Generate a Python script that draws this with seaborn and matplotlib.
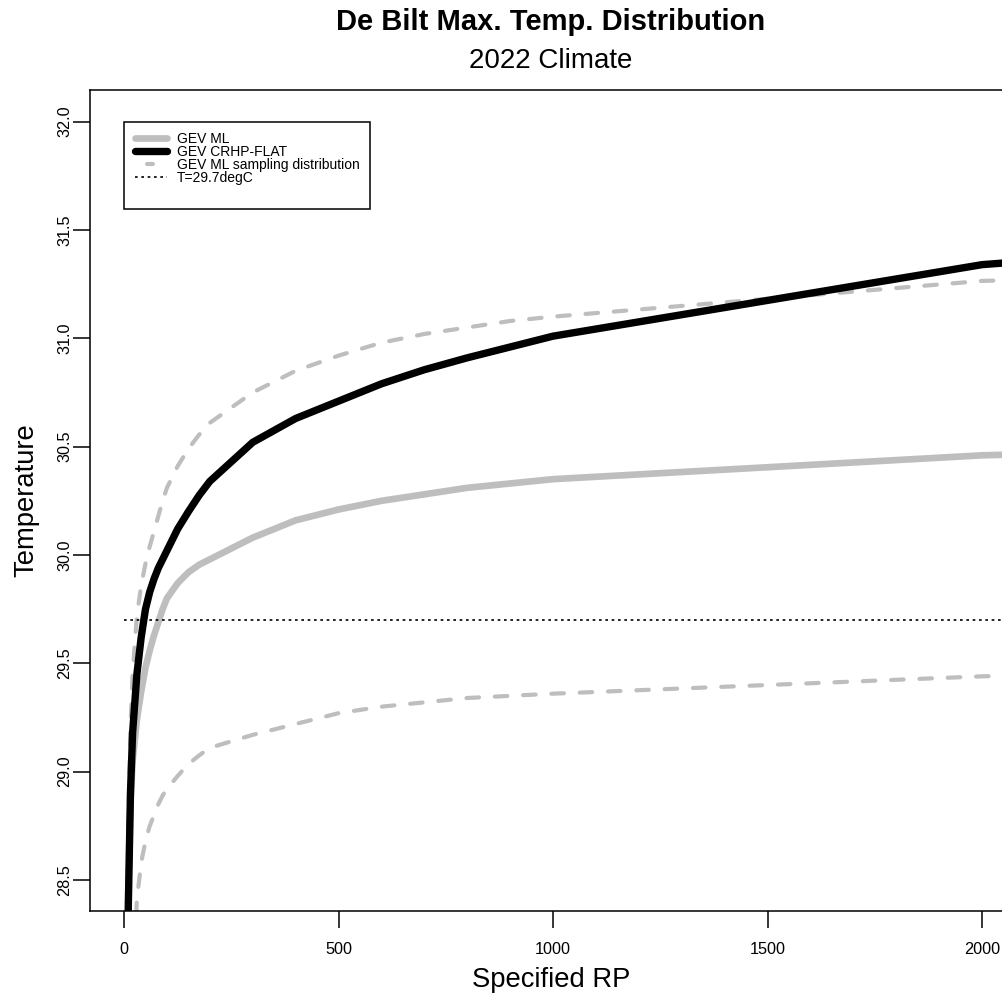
import matplotlib
matplotlib.use("Agg")
import matplotlib.pyplot as plt
import seaborn as sns
from matplotlib.lines import Line2D

# ---- data ----
return_period = [2, 5, 10, 15, 20, 30, 40, 50, 60, 70, 80, 90, 100, 125, 150, 175,
                 200, 300, 400, 500, 600, 700, 800, 900, 1000, 2000, 2100]
gev_ml = [26.0, 27.6, 28.45, 28.85, 29.05, 29.24, 29.37, 29.48, 29.56, 29.63, 29.69, 29.75, 29.80,
          29.87, 29.92, 29.955,
          29.98, 30.08, 30.16, 30.21, 30.25, 30.28, 30.31, 30.33, 30.35, 30.46, 30.465]
gev_crhp_flat = [25.5, 27.4, 28.38, 28.90, 29.18, 29.45, 29.62, 29.75, 29.83, 29.89, 29.94, 29.98, 30.02,
                 30.12, 30.20, 30.275,
                 30.34, 30.52, 30.63, 30.71, 30.79, 30.855, 30.91, 30.96, 31.01, 31.34, 31.355]
ml_sampling_upper = [26.5, 27.9, 28.75, 29.2, 29.45, 29.72, 29.86, 29.96, 30.04, 30.11, 30.18, 30.25, 30.31,
                     30.41, 30.49, 30.555,
                     30.61, 30.75, 30.85, 30.92, 30.98, 31.02, 31.05, 31.08, 31.10, 31.265, 31.27]
ml_sampling_lower = [24.0, 26.0, 27.2, 27.7, 28.0, 28.41, 28.58, 28.68, 28.75, 28.80, 28.85, 28.89, 28.92,
                     28.98, 29.035, 29.075,
                     29.11, 29.17, 29.22, 29.27, 29.30, 29.32, 29.34, 29.35, 29.36, 29.44, 29.445]
threshold_rp = [0, 2100]
threshold_temp = [29.7, 29.7]

x_ticks = [0, 500, 1000, 1500, 2000]
y_ticks = [28.5, 29.0, 29.5, 30.0, 30.5, 31.0, 31.5, 32.0]
y_tick_labels = ["28.5", "29.0", "29.5", "30.0", "30.5", "31.0", "31.5", "32.0"]

legend_labels = ["GEV ML", "GEV CRHP-FLAT", "GEV ML sampling distribution", "T=29.7degC"]

title = "De Bilt Max. Temp. Distribution"
subtitle = "2022 Climate"
x_label = "Specified RP"
y_label = "Temperature"

GREY = "#bebebe"

sns.set_style("ticks")
plt.rcParams['font.family'] = ['Liberation Sans', 'DejaVu Sans']
plt.rcParams['text.color'] = 'black'

W, H = 1003, 999
fig = plt.figure(figsize=(W / 100, H / 100), dpi=100)
ax = fig.add_axes([90 / W, 88 / H, 926 / W, 821 / H])

sns.lineplot(x=return_period, y=gev_ml, ax=ax, color=GREY, lw=4.8,
             solid_joinstyle='round', solid_capstyle='round')
for series in (ml_sampling_upper, ml_sampling_lower):
    sns.lineplot(x=return_period, y=series, ax=ax, color=GREY, lw=3.0)
    ln = ax.lines[-1]
    ln.set_linestyle((0, (3.0, 3.8)))
    ln.set_dash_capstyle('round')
sns.lineplot(x=return_period, y=gev_crhp_flat, ax=ax, color="black", lw=5.3,
             solid_joinstyle='round', solid_capstyle='round')
sns.lineplot(x=threshold_rp, y=threshold_temp, ax=ax, color="black", lw=1.2)
ax.lines[-1].set_linestyle((0, (1.6, 2.2)))

ax.set_xlim(-79.3, 2079)
ax.set_ylim(28.357, 32.146)
ax.set_xticks(x_ticks)
ax.set_xticklabels([str(t) for t in x_ticks])
ax.set_yticks(y_ticks)
ax.set_yticklabels(y_tick_labels, rotation=90, va='center')
ax.tick_params(axis='both', direction='out', length=12, width=1.1, color='black',
               labelsize=11.7, labelcolor='black')
ax.tick_params(axis='x', pad=10.5)
ax.tick_params(axis='y', pad=1)
for side in ('left', 'bottom', 'top', 'right'):
    ax.spines[side].set_visible(True)
    ax.spines[side].set_color('black')
    ax.spines[side].set_linewidth(1.1)
ax.set_xlabel("")
ax.set_ylabel("")

handles = [
    Line2D([], [], color=GREY, lw=4.8, solid_capstyle='round'),
    Line2D([], [], color="black", lw=5.3, solid_capstyle='round'),
    Line2D([], [], color=GREY, lw=3.0, linestyle=(8.1, (1.4, 9.6)), dash_capstyle='round'),
    Line2D([], [], color="black", lw=1.2, linestyle=(0, (1.6, 2.2))),
    Line2D([], [], color="none", lw=0),
]
leg = ax.legend(handles, legend_labels + [" "], loc='upper left',
                bbox_to_anchor=(0, 32.0), bbox_transform=ax.transData,
                borderaxespad=0, fontsize=10, frameon=True, fancybox=False,
                edgecolor='black', framealpha=1, handlelength=2.3, handleheight=0.7,
                handletextpad=0.72, labelspacing=-0.07, borderpad=0.76)
leg.get_frame().set_linewidth(1.1)
for t in leg.get_texts():
    t.set_color('black')

cx = 551 / W
fig.text(cx, 1 - 30 / H, title, ha='center', va='baseline', fontsize=21,
         fontweight='bold', color='black')
fig.text(cx, 1 - 68 / H, subtitle, ha='center', va='baseline', fontsize=20, color='black')
fig.text(cx, 1 - 987 / H, x_label, ha='center', va='baseline', fontsize=19.7, color='black')
fig.text(26 / W, 1 - 500 / H, y_label, ha='center', va='center', rotation=90,
         fontsize=19.7, color='black')

fig.savefig("out.png", dpi=100)
